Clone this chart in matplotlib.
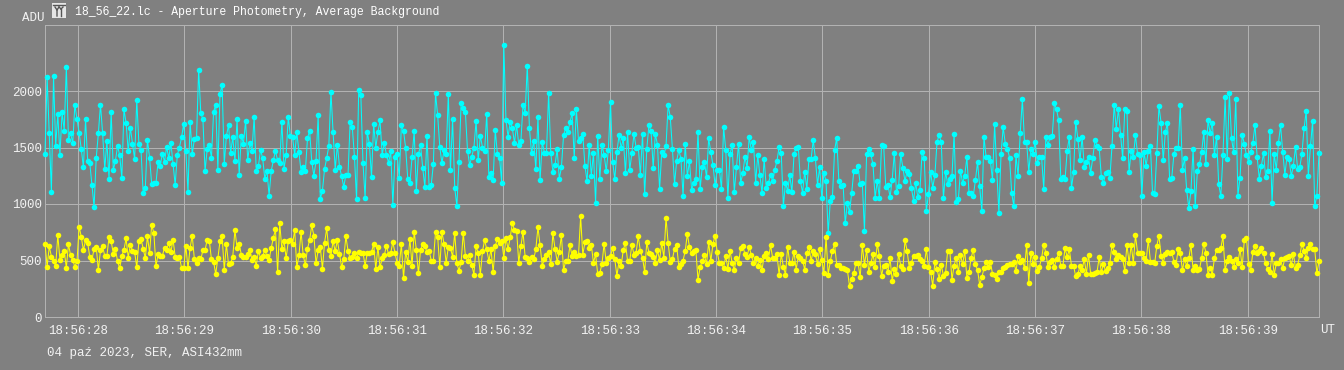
import numpy as np
import matplotlib
matplotlib.use("Agg")
import matplotlib.pyplot as plt

W, H = 1344, 370

# Values, ADU per frame, grouped by stretch of the chart
cyan_a = [1440, 2120, 1625, 1105, 2130, 1515, 1795, 1435, 1810, 1650, 2210, 1570, 1625, 1540, 1880, 1750, 1630, 1485, 1325, 1750,
          1380, 1360, 1170, 975, 1405, 1625, 1880, 1625, 1310, 1555, 1220, 1815, 1300, 1380, 1515, 1430, 1230, 1840, 1715, 1465,
          1675, 1535, 1395, 1920, 1535, 1475, 1095, 1140, 1570, 1410, 1175, 1190, 1185, 1375, 1340, 1445, 1375, 1505, 1405, 1540,
          1355, 1170, 1435, 1500, 1590, 1710, 1470, 1105, 1730, 1440, 1575, 1580, 2190, 1805, 1750]
cyan_b = [1290, 1485, 1520, 1410, 1815, 1880, 1300, 1975, 2055, 1355, 1600, 1700, 1455, 1590, 1380, 1750, 1255, 1605, 1535, 1735,
          1390, 1540, 1470, 1770, 1295, 1335, 1480, 1405, 1225, 1295, 1075, 1290, 1385, 1470, 1385, 1365, 1730, 1310, 1435, 1770,
          1600, 1590, 1435, 1635, 1460, 1285, 1325, 1290, 1580, 1650, 1375, 1250, 1380, 1785, 1045, 1115, 1310, 1405, 1515, 1990,
          1635, 1305, 1525, 1330, 1245, 1150, 1260, 1260, 1730, 1680, 1420, 1040, 2010, 1965, 1365]
cyan_c = [1055, 1635, 1535, 1235, 1710, 1500, 1635, 1740, 1435, 1540, 1435, 1365, 1465, 995, 1420, 1440, 1230, 1695, 1650, 1495,
          1220, 1185, 1420, 1645, 1115, 1440, 1520, 1320, 1150, 1600, 1150, 1170, 1355, 1980, 1785, 1505, 1360, 1475, 1440, 1975,
          1300, 1750, 1140, 985, 1375, 1895, 1850, 1810, 1470, 1345, 1420, 1500, 1735, 1385, 1605, 1500, 1465, 1800, 1240, 1270,
          1215, 1655, 1440, 1410, 1190, 2405, 1740, 1595, 1725, 1670, 1540, 1700, 1525, 1555, 1880]
cyan_d = [1805, 2225, 1670, 1450, 1555, 1310, 1770, 1210, 1550, 1455, 1455, 1985, 1455, 1285, 1345, 1485, 1225, 1325, 1610, 1670,
          1635, 1725, 1805, 1410, 1840, 1560, 1585, 1620, 1340, 1200, 1520, 1250, 1450, 1010, 1600, 1225, 1520, 1435, 1290, 1480,
          1900, 1375, 1220, 1460, 1610, 1495, 1580, 1275, 1635, 1300, 1450, 1620, 1500, 1505, 1260, 1620, 1085, 1485, 1700, 1645,
          1320, 1620, 1525, 1130, 1460, 1430, 1510, 1875, 1770, 1490, 1180, 1380, 1480, 1400, 1070]
cyan_e = [1535, 1245, 1380, 1125, 1185, 1225, 1635, 1135, 1330, 1375, 1235, 1580, 1460, 1345, 1170, 1300, 1305, 1130, 1680, 1480,
          1055, 1445, 1520, 1105, 1325, 1535, 1190, 1270, 1420, 1320, 1595, 1475, 1545, 1190, 1430, 1255, 1095, 1400, 1140, 1185,
          1255, 1205, 1305, 1380, 1505, 1455, 980, 1190, 1115, 1255, 1105, 1440, 1500, 1505, 1200, 1100, 1285, 1135, 1400, 1400,
          1565, 1405, 1170, 1325, 1055, 1275, 1200, 740, 1030, 1065, 1475, 1585, 1205, 1155]
cyan_f = [1165, 830, 1010, 925, 1095, 1290, 1295, 1335, 1175, 1185, 760, 1440, 1490, 1440, 1350, 1055, 1205, 1055, 1520, 1515,
          1150, 1170, 1060, 1215, 1455, 1105, 1155, 1440, 1320, 1200, 1295, 1265, 1145, 1025, 1190, 1060, 1120, 1460, 1405, 940,
          1085, 1285, 1145, 1255, 1545, 1615, 1545, 1050, 1285, 1175, 1225, 1245, 1620, 1015, 1040, 1295, 1185, 1250, 1415, 1095,
          1095, 1070, 1210, 1370, 1155, 935, 1595, 1415, 1420, 1380, 1215, 1705, 1300, 920, 1440, 1680]
cyan_g = [1535, 1490, 1410, 1095, 980, 1430, 1250, 1630, 1925, 1550, 1545, 1285, 1490, 1445, 1550, 1365, 1420, 1415, 1135, 1595,
          1520, 1595, 1600, 1890, 1840, 1740, 1225, 1240, 1220, 1470, 1595, 1140, 1280, 1730, 1575, 1385, 1595, 1330, 1370, 1415,
          1275, 1410, 1565, 1515, 1495, 1240, 1185, 1270, 1285, 1230, 1515, 1880, 1665, 1840, 1615, 1405, 1845, 1820, 1285, 1465,
          1415, 1610, 1440, 1430, 1075, 1460, 1340, 1470, 1515, 1095, 1085, 1450, 1865, 1720, 1385]
cyan_h = [1635, 1720, 1220, 1230, 1440, 1500, 1495, 1875, 1300, 1405, 1120, 965, 1115, 1490, 985, 1290, 1350, 1460, 1635, 1350,
          1745, 1625, 1720, 1430, 1595, 1175, 1070, 1435, 1945, 1400, 1985, 1580, 1460, 1930, 1075, 1230, 1610, 1535, 1430, 1375,
          1460, 1540, 1700, 1420, 1225, 1340, 1450, 1240, 1290, 1645, 1010, 1445, 1305, 1540, 1695, 1460, 1260, 1415, 1400, 1245,
          1340, 1505, 1310, 1325, 1445, 1670, 1825, 1245, 1510, 1735, 980, 1075, 1450]

yellow_a = [650, 445, 625, 535, 495, 450, 725, 505, 550, 585, 435, 645, 545, 505, 445, 495, 800, 710, 590, 680,
            655, 530, 505, 605, 620, 415, 590, 625, 540, 540, 705, 675, 560, 600, 495, 430, 540, 595, 695, 525,
            640, 585, 575, 440, 670, 690, 605, 520, 715, 565, 815, 745, 450, 555, 540, 540, 615, 595, 655, 575,
            685, 535, 520, 530, 435, 430, 630, 430, 615, 720, 510, 480, 520, 510, 590]
yellow_b = [590, 685, 675, 510, 490, 380, 520, 670, 715, 415, 645, 465, 475, 535, 770, 610, 650, 550, 535, 530,
            555, 595, 505, 530, 455, 585, 525, 540, 590, 540, 505, 610, 700, 775, 395, 830, 600, 675, 520, 670,
            680, 645, 770, 440, 545, 755, 545, 460, 605, 680, 810, 720, 475, 590, 620, 425, 655, 785, 595, 540,
            675, 580, 680, 560, 440, 515, 715, 585, 520, 535, 565, 520, 575, 570, 570]
yellow_c = [455, 565, 570, 575, 645, 425, 620, 440, 520, 545, 630, 555, 565, 665, 565, 480, 455, 645, 345, 575,
            485, 690, 455, 755, 595, 385, 595, 645, 630, 575, 585, 500, 500, 750, 710, 445, 755, 645, 480, 620,
            610, 535, 745, 475, 410, 485, 745, 540, 495, 545, 460, 375, 625, 565, 375, 580, 680, 600, 495, 600,
            395, 630, 690, 655, 675, 525, 700, 600, 705, 830, 770, 765, 480, 625, 755]
yellow_d = [530, 525, 490, 530, 510, 600, 795, 635, 455, 510, 545, 575, 465, 740, 605, 490, 575, 725, 415, 495,
            495, 635, 540, 575, 540, 545, 890, 550, 660, 670, 615, 640, 480, 555, 380, 390, 470, 650, 480, 525,
            540, 610, 510, 365, 495, 455, 595, 655, 495, 495, 640, 550, 570, 715, 580, 525, 400, 660, 570, 560,
            535, 480, 590, 505, 655, 525, 880, 655, 490, 510, 605, 635, 445, 470, 500]
yellow_e = [585, 735, 620, 565, 585, 590, 330, 440, 495, 545, 470, 660, 495, 645, 720, 575, 480, 475, 430, 540,
            425, 585, 480, 415, 520, 475, 610, 630, 555, 535, 620, 545, 480, 520, 450, 505, 420, 540, 570, 510,
            635, 520, 525, 555, 375, 555, 445, 375, 620, 480, 480, 575, 420, 540, 520, 500, 420, 565, 620, 495,
            585, 555, 470, 600, 505, 390, 710, 375, 495, 585, 645, 460, 460, 435]
yellow_f = [430, 425, 415, 275, 335, 385, 480, 480, 350, 635, 460, 590, 400, 475, 555, 445, 650, 540, 365, 455,
            460, 395, 520, 320, 425, 380, 555, 455, 425, 680, 585, 435, 480, 540, 540, 550, 510, 495, 455, 600,
            445, 400, 275, 485, 425, 340, 460, 365, 390, 585, 585, 330, 455, 525, 395, 550, 465, 585, 345, 395,
            525, 595, 465, 415, 285, 350, 430, 485, 440, 490, 380, 370, 335, 395, 395, 435]
yellow_g = [445, 460, 465, 470, 490, 405, 540, 490, 505, 430, 640, 305, 570, 470, 530, 410, 445, 520, 640, 570,
            440, 490, 505, 445, 510, 565, 455, 455, 610, 530, 600, 455, 450, 360, 380, 450, 415, 515, 380, 550,
            380, 380, 390, 400, 530, 395, 470, 405, 430, 480, 640, 575, 510, 545, 530, 510, 410, 640, 480, 640,
            480, 725, 565, 565, 565, 525, 495, 685, 490, 490, 475, 630, 720, 540, 480]
yellow_h = [555, 575, 570, 575, 490, 460, 600, 565, 415, 510, 455, 520, 640, 415, 455, 415, 425, 520, 650, 570,
            375, 435, 375, 520, 595, 595, 610, 715, 415, 495, 530, 500, 440, 510, 475, 605, 440, 680, 700, 465,
            415, 575, 625, 565, 585, 610, 565, 475, 425, 395, 560, 375, 475, 475, 510, 430, 525, 530, 540, 460,
            555, 435, 460, 545, 650, 585, 520, 610, 645, 600, 600, 385, 495]

tick_seconds = [28.0, 29.0, 30.0, 31.0, 32.0, 33.0, 34.0, 35.0, 36.0, 37.0, 38.0, 39.0]
tick_labels = ["18:56:%02d" % s for s in range(28, 40)]
y_ticks = [0, 500, 1000, 1500, 2000]

cyan = cyan_a + cyan_b + cyan_c + cyan_d + cyan_e + cyan_f + cyan_g + cyan_h
yellow = yellow_a + yellow_b + yellow_c + yellow_d + yellow_e + yellow_f + yellow_g + yellow_h

BG = "#808080"
GRID = "#b2b2b2"
TXT = "#f2f2f2"
FONT = "Liberation Mono"

fig = plt.figure(figsize=(W / 100, H / 100), dpi=100, facecolor=BG)
L, R, T, B = 45, 1319, 25, 317
ax = fig.add_axes([L / W, 1 - B / H, (R - L) / W, (B - T) / H], facecolor=BG)

t0, t1 = 27.69, 39.67
for vals, col in ((cyan, "#00ffff"), (yellow, "#ffff00")):
    t = np.linspace(t0, t1, len(vals))
    ax.plot(t, vals, color=col, lw=0.75, clip_on=False, zorder=3)
    ax.plot(t, vals, ls="none", color=col, marker="o", ms=4, mew=0, clip_on=False, zorder=4)

ax.set_xlim(t0, t1)
ax.set_ylim(0, (B - T) / 0.113)
ax.set_xticks(tick_seconds)
ax.set_xticklabels(tick_labels, family=FONT, fontsize=9, color=TXT)
ax.set_yticks(y_ticks)
ax.set_yticklabels([str(v) for v in y_ticks], family=FONT, fontsize=9, color=TXT)
ax.tick_params(length=0, pad=2)
ax.tick_params(axis="x", pad=6)
ax.grid(True, color=GRID, lw=0.75, zorder=1)
ax.set_axisbelow(True)
for s in ax.spines.values():
    s.set_color(GRID)
    s.set_linewidth(0.75)


def put(x, y, s, **kw):
    # pixel position from the top left of the picture
    fig.text(x / W, 1 - y / H, s, family=FONT, fontsize=9, color=TXT, va="center", **kw)


fig.text(75 / W, 1 - 12 / H, "18_56_22.lc - Aperture Photometry, Average Background",
         family=FONT, fontsize=8.3, color="white", va="center")
put(44, 18, "ADU", ha="right")
put(1320, 330, "UT")
put(47, 353, "04 paź 2023, SER, ASI432mm")

# small window icon left of the title
icon = fig.add_axes([52 / W, 1 - 18 / H, 14 / W, 15 / H], facecolor="#e6e6e6")
icon.set_xlim(0, 14)
icon.set_ylim(15, 0)
icon.axis("off")
icon.add_patch(plt.Rectangle((0, 0), 14, 15, color="#e6e6e6"))
for xs, ys in (([3, 5, 5], [4, 7, 13]), ([7, 5], [4, 7]), ([9, 9], [6, 13]), ([11, 9], [4, 6]), ([7, 9], [4, 6]), ([1, 13], [2, 2])):
    icon.plot(xs, ys, color="#555555", lw=1.0)

fig.savefig("out.png", dpi=100, facecolor=BG)
